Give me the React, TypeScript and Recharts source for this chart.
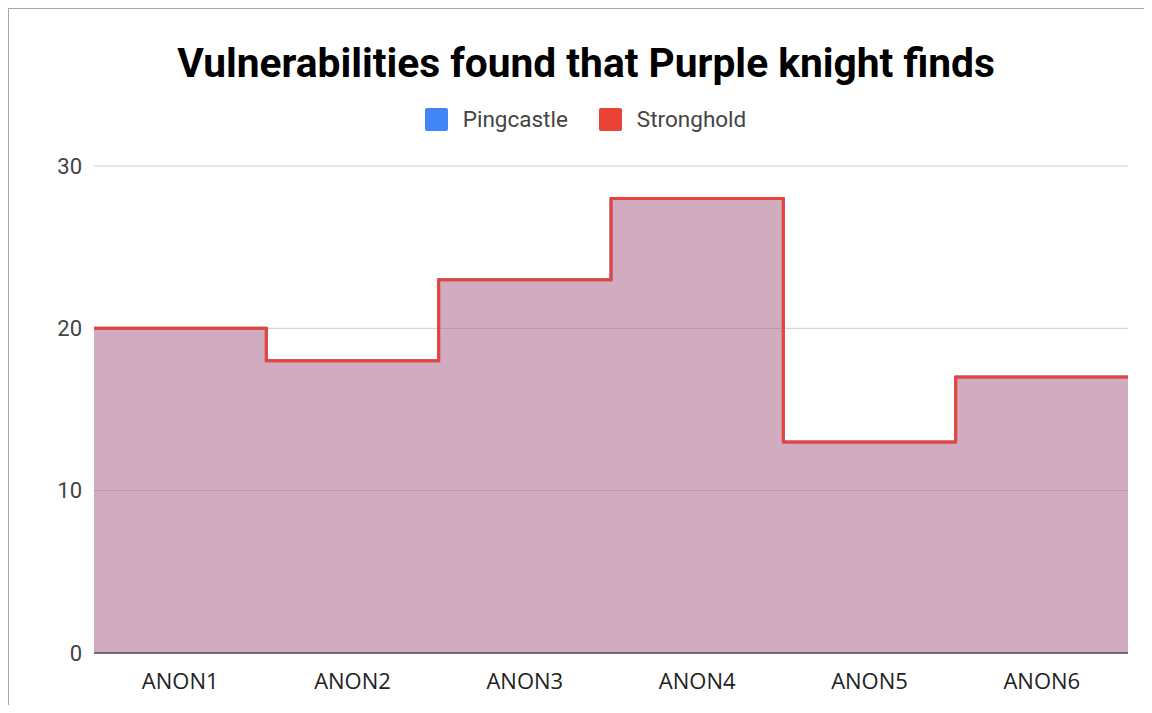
// App.tsx
// Stepped area chart: vulnerabilities found per environment, Pingcastle vs Stronghold.

import { AreaChart, Area, XAxis, YAxis, CartesianGrid, Legend } from "recharts";

const categories = ["ANON1", "ANON2", "ANON3", "ANON4", "ANON5", "ANON6"];
const pingcastle = [20, 18, 23, 28, 13, 17];
const stronghold = [20, 18, 23, 28, 13, 17];
const yTicks = [0, 10, 20, 30];

const seriesColors: Record<string, string> = {
  Pingcastle: "#4285f4",
  Stronghold: "#ea4335",
};

// one row per category, plus a closing row so the last step spans its whole band
const last = categories.length - 1;
const data = [
  ...categories.map((name, i) => ({ x: i, name, pingcastle: pingcastle[i], stronghold: stronghold[i] })),
  { x: categories.length, name: "", pingcastle: pingcastle[last], stronghold: stronghold[last] },
];
const xTicks = categories.map((_, i) => i + 0.5);

function LegendContent({ payload }: any) {
  return (
    <div
      style={{
        height: 62,
        display: "flex",
        justifyContent: "center",
        alignItems: "flex-start",
        paddingLeft: 19,
        fontFamily: "Roboto",
        fontSize: 22.5,
        color: "#444",
      }}
    >
      {(payload || []).map((p: any, i: number) => (
        <div
          key={p.value}
          style={{ display: "flex", alignItems: "center", height: 30, marginLeft: i ? 31 : 0 }}
        >
          <span
            style={{
              width: 23,
              height: 23,
              borderRadius: 2,
              background: seriesColors[p.value],
              marginRight: 15,
              display: "inline-block",
            }}
          />
          {p.value}
        </div>
      ))}
    </div>
  );
}

export default function App() {
  return (
    <div
      style={{
        position: "relative",
        margin: -8,
        width: 1152,
        height: 713,
        overflow: "hidden",
        background: "white",
      }}
    >
      {/* spreadsheet frame */}
      {[166, 360, 943, 1138].map((x) => (
        <div key={x} style={{ position: "absolute", left: x, top: 0, width: 1, height: 7, background: "#d0d0d0" }} />
      ))}
      <div
        style={{
          position: "absolute",
          left: 7,
          top: 7,
          width: 1200,
          height: 800,
          borderTop: "2px solid #a6a6a6",
          borderLeft: "2px solid #a6a6a6",
        }}
      />
      <div
        style={{
          position: "absolute",
          left: 0,
          width: 1172,
          top: 43,
          textAlign: "center",
          fontFamily: "Roboto",
          fontWeight: 700,
          fontSize: 40.7,
          lineHeight: "41px",
          color: "#000",
        }}
      >
        Vulnerabilities found that Purple knight finds
      </div>
      <div style={{ position: "absolute", left: 0, top: 0 }}>
        <AreaChart width={1152} height={713} data={data} margin={{ top: 104, right: 24, bottom: 0, left: 0 }}>
          <CartesianGrid horizontal vertical={false} stroke="#cccccc" />
          <XAxis
            type="number"
            dataKey="x"
            domain={[0, categories.length]}
            ticks={xTicks}
            tickFormatter={(v: number) => categories[Math.floor(v)]}
            height={60}
            tickSize={0}
            tickMargin={20}
            tickLine={false}
            axisLine={{ stroke: "#5e4856", strokeWidth: 1.5 }}
            tick={{ fontSize: 22, fill: "#222", fontFamily: "Open Sans" }}
            interval={0}
          />
          <YAxis
            domain={[0, 30]}
            ticks={yTicks}
            width={94}
            tickSize={0}
            tickMargin={12}
            tickLine={false}
            axisLine={false}
            tick={{ fontSize: 22, fill: "#444", fontFamily: "Roboto" }}
          />
          <Legend verticalAlign="top" align="center" wrapperStyle={{ left: 0, width: 1152 }} content={LegendContent} />
          <Area
            type="stepAfter"
            dataKey="pingcastle"
            name="Pingcastle"
            stroke="#4285f4"
            strokeWidth={3}
            fill="#4285f4"
            fillOpacity={0.3}
            dot={false}
            activeDot={false}
            isAnimationActive={false}
          />
          <Area
            type="stepAfter"
            dataKey="stronghold"
            name="Stronghold"
            stroke="#ea4335"
            strokeWidth={3}
            strokeLinejoin="round"
            fill="#ea4335"
            fillOpacity={0.3}
            dot={false}
            activeDot={false}
            isAnimationActive={false}
          />
        </AreaChart>
      </div>
    </div>
  );
}
